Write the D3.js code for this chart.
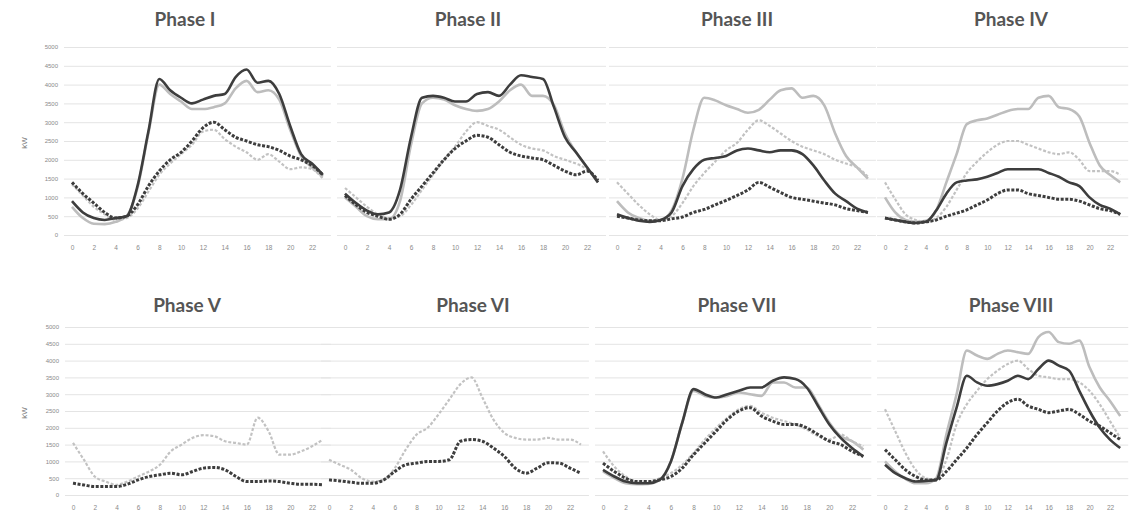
<!DOCTYPE html>
<html>
<head>
<meta charset="utf-8">
<script src="https://cdn.jsdelivr.net/npm/d3@7"></script>
<style>
  body { margin: 0; background: #fff; }
  svg { display: block; }
</style>
</head>
<body>
<svg id="chart" width="1135" height="516"></svg>
<script>
// hours of the day
var hours = d3.range(0, 24);
var xTicks = d3.range(0, 23, 2);
var yTicks = d3.range(0, 5001, 500);
var phaseNames = ['Phase I','Phase II','Phase III','Phase IV','Phase V','Phase VI','Phase VII','Phase VIII'];

// dark solid series, one row per phase (null = not drawn)
var darkSolid = [
  [900,600,450,400,450,500,1300,2750,4150,3850,3650,3500,3600,3700,3750,4200,4400,4050,4100,3750,2900,2150,1900,1600],
  [1100,850,650,550,600,1200,2600,3650,3700,3650,3550,3550,3750,3800,3700,4000,4250,4200,4150,3400,2600,2200,1800,1400],
  [550,450,380,350,400,600,1300,1750,2000,2050,2100,2250,2300,2250,2200,2250,2250,2150,1850,1450,1100,900,700,600],
  [450,400,350,320,350,650,1100,1400,1450,1480,1550,1650,1750,1750,1750,1750,1650,1550,1400,1300,1000,800,700,550],
  null,
  null,
  [750,550,400,350,350,450,1000,2150,3150,3000,2900,3000,3100,3200,3200,3400,3500,3450,3200,2650,2100,1700,1400,1150],
  [900,650,500,400,420,450,1550,2600,3550,3350,3250,3300,3400,3550,3450,3750,4000,3850,3700,3100,2500,2000,1650,1400]
];
var lightSolid = [
  [750,450,300,290,350,500,1250,2700,4000,3750,3550,3350,3350,3400,3500,3900,4100,3800,3850,3600,2800,2100,1800,1550],
  [1000,750,500,420,420,900,2400,3500,3650,3600,3450,3350,3300,3350,3550,3850,4000,3700,3700,3450,2700,2200,1800,1400],
  [900,600,450,380,400,650,1500,2800,3650,3580,3450,3350,3250,3330,3600,3850,3900,3650,3700,3450,2700,2100,1800,1500],
  [1000,600,400,350,380,650,1400,2150,2950,3050,3100,3200,3300,3350,3350,3650,3700,3400,3350,3150,2450,1850,1600,1400],
  null,
  null,
  [700,500,350,320,330,450,1000,2150,3100,2950,2900,2950,3050,3000,2950,3350,3350,3200,3200,2700,2150,1750,1600,1350],
  [1000,700,480,350,350,500,1800,3000,4300,4150,4050,4200,4300,4250,4200,4700,4850,4550,4500,4600,3800,3200,2800,2350]
];
var darkDashed = [
  [1400,1100,850,600,450,500,800,1300,1700,2000,2200,2500,2850,3000,2800,2600,2500,2400,2350,2250,2100,2000,1850,1600],
  [1050,800,600,500,420,550,950,1300,1650,2000,2300,2500,2650,2600,2400,2200,2100,2050,2000,1850,1700,1600,1700,1450],
  [500,450,400,380,380,430,480,600,680,800,920,1050,1200,1400,1270,1130,1000,950,900,850,800,700,650,600],
  [450,400,350,320,350,400,500,580,670,800,930,1100,1200,1200,1100,1050,1000,950,950,900,800,700,650,550],
  [350,300,250,250,250,320,450,550,600,650,600,700,800,820,750,550,400,400,420,400,350,320,320,300],
  [450,420,380,350,350,450,700,900,950,1000,1000,1050,1600,1650,1600,1400,1150,800,650,800,960,950,800,650],
  [950,700,500,400,400,450,550,800,1200,1550,1900,2250,2500,2600,2350,2200,2100,2100,2000,1800,1600,1500,1300,1150],
  [1350,1050,750,550,450,450,700,1050,1400,1800,2150,2500,2750,2850,2650,2550,2450,2500,2550,2400,2200,2050,1850,1650]
];
var lightDashed = [
  [1350,1050,750,550,400,450,700,1150,1600,1900,2150,2400,2750,2800,2550,2350,2200,2000,2150,1950,1750,1800,1750,1500],
  [1250,1000,750,550,450,500,800,1200,1600,2000,2350,2750,3000,2900,2800,2600,2400,2300,2250,2100,2000,1900,1750,1450],
  [1400,1100,800,550,400,500,850,1300,1650,1950,2250,2450,2800,3050,2900,2700,2500,2350,2250,2150,2000,1900,1800,1550],
  [1400,950,550,400,350,450,750,1200,1650,1950,2200,2400,2500,2500,2400,2300,2200,2150,2200,2000,1700,1700,1700,1600],
  [1550,1050,550,400,300,400,550,700,900,1300,1500,1700,1780,1750,1600,1550,1500,2300,1900,1200,1200,1300,1450,1650],
  [1050,900,750,500,400,450,800,1350,1800,2000,2400,2850,3300,3500,2900,2250,1850,1700,1650,1650,1700,1650,1650,1500],
  [1300,850,550,400,400,500,650,900,1250,1650,2000,2300,2550,2650,2450,2300,2200,2100,1950,1750,1650,1800,1600,1450],
  [2550,1900,1250,750,500,450,1050,2100,2700,3100,3450,3700,3900,4000,3750,3550,3500,3450,3450,3350,3100,2700,2200,1700]
];

// panel layout: x of hour 0 and hour 22, row, title centre
var panels = [
  {x0: 72,  x22: 312,  row: 0, tx: 185},
  {x0: 345, x22: 587,  row: 0, tx: 468},
  {x0: 617, x22: 857,  row: 0, tx: 737},
  {x0: 885, x22: 1110, row: 0, tx: 1011},
  {x0: 73,  x22: 312,  row: 1, tx: 187},
  {x0: 329, x22: 570,  row: 1, tx: 473},
  {x0: 603, x22: 852,  row: 1, tx: 737},
  {x0: 885, x22: 1110, row: 1, tx: 1011}
];
var rows = [
  {y0: 235, y5000: 47,  titleY: 26,  tickY: 251},
  {y0: 495, y5000: 327, titleY: 312, tickY: 511}
];

var svg = d3.select('#chart');

var styles = [
  {data: lightSolid,  color: '#bdbdbd', width: 2.6, dash: null},
  {data: lightDashed, color: '#c2c2c2', width: 2.2, dash: '3,1.8'},
  {data: darkDashed,  color: '#3d3d3d', width: 3,   dash: '3,1.6'},
  {data: darkSolid,   color: '#3d3d3d', width: 2.6, dash: null}
];

panels.forEach(function (p, pi) {
  var r = rows[p.row];
  var x = d3.scaleLinear().domain([0, 22]).range([p.x0, p.x22]);
  var y = d3.scaleLinear().domain([0, 5000]).range([r.y0, r.y5000]);
  var g = svg.append('g').attr('class', 'panel' + pi);
  var gx = x(0) - 8, gw = x(23) + 8 - gx;
  var showY = (pi % 4 === 0);

  // gridlines + y labels
  var ya = g.append('g')
    .attr('transform', 'translate(' + gx + ',0)')
    .call(d3.axisLeft(y).tickValues(yTicks).tickSize(-gw).tickPadding(6)
      .tickFormat(showY ? d3.format('d') : function () { return ''; }));
  ya.select('.domain').remove();
  ya.selectAll('line').attr('stroke', '#e4e4e4').attr('stroke-width', 1);
  ya.selectAll('text').attr('fill', '#8a8a8a').attr('font-size', '6px')
    .attr('font-family', 'Liberation Sans, sans-serif');

  // x labels
  var xa = g.append('g')
    .attr('transform', 'translate(0,' + (r.tickY - 6) + ')')
    .call(d3.axisBottom(x).tickValues(xTicks).tickSize(0).tickPadding(0));
  xa.select('.domain').remove();
  xa.selectAll('text').attr('fill', '#8a8a8a').attr('font-size', '6.5px')
    .attr('font-family', 'Liberation Sans, sans-serif');

  if (showY) {
    g.append('text')
      .attr('transform', 'translate(27,' + ((r.y0 + r.y5000) / 2 + 2) + ') rotate(-90)')
      .attr('text-anchor', 'middle')
      .attr('font-family', 'Liberation Sans, sans-serif')
      .attr('font-size', '8px')
      .attr('fill', '#777')
      .text('kW');
  }

  g.append('text')
    .attr('x', p.tx)
    .attr('y', r.titleY)
    .attr('text-anchor', 'middle')
    .attr('font-family', 'Lato, sans-serif')
    .attr('font-weight', 'bold')
    .attr('font-size', '19px')
    .attr('fill', '#555')
    .text(phaseNames[pi]);

  var line = d3.line()
    .x(function (d, i) { return x(hours[i]); })
    .y(function (d) { return y(d); })
    .curve(d3.curveMonotoneX);

  styles.forEach(function (s) {
    var vals = s.data[pi];
    if (!vals) return;
    g.append('path')
      .datum(vals)
      .attr('d', line)
      .attr('fill', 'none')
      .attr('stroke', s.color)
      .attr('stroke-width', s.width)
      .attr('stroke-dasharray', s.dash)
      .attr('stroke-linejoin', 'round');
  });
});
</script>
</body>
</html>
